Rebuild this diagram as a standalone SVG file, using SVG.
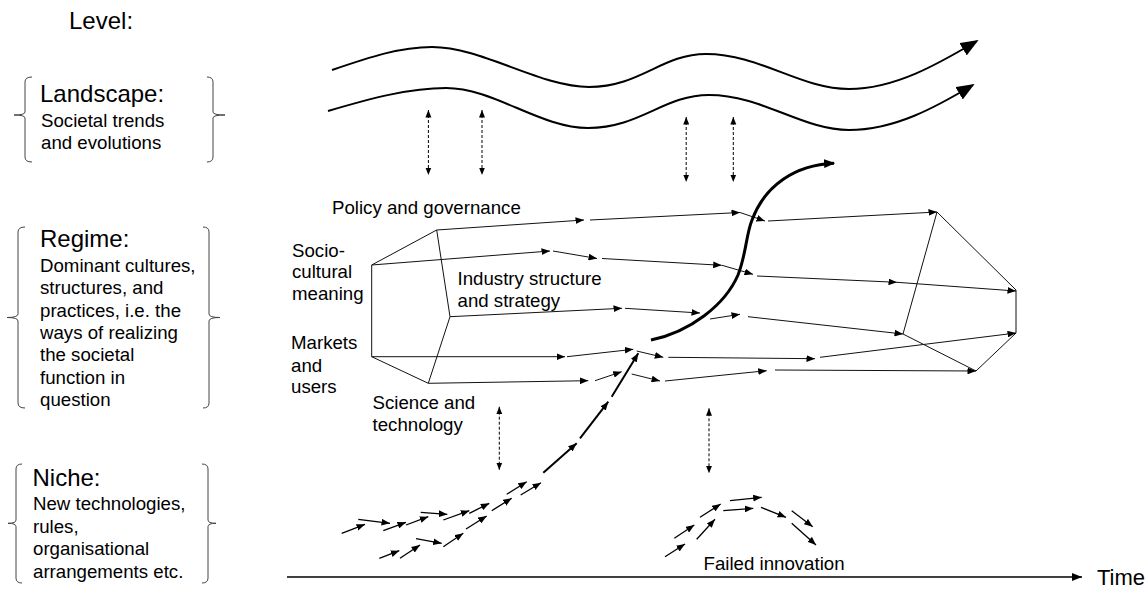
<svg xmlns="http://www.w3.org/2000/svg" width="1148" height="609" viewBox="0 0 1148 609">
  <style>
    text { font-family: "Liberation Sans", Arial, sans-serif; fill: #000; }
    .b { font-size: 18.67px; }
    .h { font-size: 24px; }
    .brace { fill: none; stroke: #444; stroke-width: 1; }
    .ln { fill: none; stroke: #111; stroke-width: 1; }
    .edge { fill: none; stroke: #111; stroke-width: 1; marker-end: url(#ah); }
    .wave { fill: none; stroke: #000; stroke-width: 2; marker-end: url(#big); }
    .dash { fill: none; stroke: #000; stroke-width: 1; stroke-dasharray: 3 2; marker-start: url(#dh); marker-end: url(#dh); }
    .nic { fill: none; stroke: #000; stroke-width: 1.3; marker-end: url(#sh); }
    .bold { fill: none; stroke: #000; stroke-width: 2; marker-end: url(#sh); }
  </style>
  <defs>
    <marker id="ah" viewBox="0 0 10 8" refX="10" refY="4" markerWidth="8.5" markerHeight="6.8" markerUnits="userSpaceOnUse" orient="auto">
      <path d="M0,0L10,4L0,8z" fill="#000"/>
    </marker>
    <marker id="sh" viewBox="0 0 10 8" refX="10" refY="4" markerWidth="8.5" markerHeight="7" markerUnits="userSpaceOnUse" orient="auto">
      <path d="M0,0L10,4L0,8z" fill="#000"/>
    </marker>
    <marker id="dh" viewBox="0 0 10 8" refX="10" refY="4" markerWidth="7.5" markerHeight="6.5" markerUnits="userSpaceOnUse" orient="auto-start-reverse">
      <path d="M0,0L10,4L0,8z" fill="#000"/>
    </marker>
    <marker id="big" viewBox="0 0 10 8" refX="9" refY="4" markerWidth="18" markerHeight="14.4" markerUnits="userSpaceOnUse" orient="auto">
      <path d="M0,0L10,4L0,8z" fill="#000"/>
    </marker>
    <marker id="sc" viewBox="0 0 10 8" refX="9" refY="4" markerWidth="11" markerHeight="8.8" markerUnits="userSpaceOnUse" orient="auto">
      <path d="M0,0L10,4L0,8z" fill="#000"/>
    </marker>
    <marker id="ta" viewBox="0 0 10 8" refX="10" refY="4" markerWidth="10" markerHeight="8" markerUnits="userSpaceOnUse" orient="auto">
      <path d="M0,0L10,4L0,8z" fill="#000"/>
    </marker>
  </defs>

  <!-- level legend on the left -->
  <text class="h" x="69" y="29">Level:</text>

  <g id="level-landscape">
    <path class="brace" d="M32,77 Q25,77 25,82 L25,112 Q25,115 14,115 Q25,115 25,118 L25,157 Q25,162 32,162"/>
    <path class="brace" d="M207,77 Q213,77 213,82 L213,112 Q213,115 225,115 Q213,115 213,118 L213,157 Q213,162 207,162"/>
    <text class="h" x="40" y="102">Landscape:</text>
    <text class="b" x="41" y="126.5">Societal trends</text>
    <text class="b" x="41" y="149">and evolutions</text>
  </g>

  <g id="level-regime">
    <path class="brace" d="M25,227 Q18,227 18,232 L18,314 Q18,317.5 7,317.5 Q18,317.5 18,321 L18,403 Q18,408 25,408"/>
    <path class="brace" d="M203,227 Q209,227 209,232 L209,314 Q209,317.5 220,317.5 Q209,317.5 209,321 L209,403 Q209,408 203,408"/>
    <text class="h" x="40" y="247">Regime:</text>
    <text class="b" x="40" y="272">Dominant cultures,</text>
    <text class="b" x="40" y="294.3">structures, and</text>
    <text class="b" x="40" y="316.6">practices, i.e. the</text>
    <text class="b" x="40" y="339">ways of realizing</text>
    <text class="b" x="40" y="361.3">the societal</text>
    <text class="b" x="40" y="383.6">function in</text>
    <text class="b" x="40" y="406">question</text>
  </g>

  <g id="level-niche">
    <path class="brace" d="M22,464 Q16,464 16,469 L16,520 Q16,523.3 8,523.3 Q16,523.3 16,526.5 L16,578 Q16,583 22,583"/>
    <path class="brace" d="M202,464 Q208,464 208,469 L208,520 Q208,523.3 216,523.3 Q208,523.3 208,526.5 L208,578 Q208,583 202,583"/>
    <text class="h" x="32.5" y="486">Niche:</text>
    <text class="b" x="33" y="510">New technologies,</text>
    <text class="b" x="33" y="532.5">rules,</text>
    <text class="b" x="33" y="555">organisational</text>
    <text class="b" x="33" y="577.5">arrangements etc.</text>
  </g>

  <!-- landscape: two wavy trend lines -->
  <g id="landscape">
    <path class="wave" d="M332,70 C370,57 400,47 432,47 C482,47 540,87 589,87 C640,87 662,54 706,54 C760,54 800,89 849,89 C895,89 938,64 977,41"/>
    <path class="wave" d="M328,111 C372,98 410,88 446,88 C494,88 540,128 588,128 C640,128 664,95 709,95 C762,95 802,130 849,130 C895,130 936,107 973,85"/>
  </g>

  <!-- regime: entry and exit faces of the tube -->
  <g id="regime-left">
    <path class="ln" d="M371.7,265 L371.7,356.7 L428.3,383.3 L450,316.7 L436.7,230 Z"/>
  </g>
  <g id="regime-right">
    <path class="ln" d="M937,212 L1016,290 L1016,333 L976,371 L903,334 Z"/>
  </g>

  <g id="regime-labels">
    <text class="b" x="332" y="213.5">Policy and governance</text>
    <text class="b" x="292" y="256.7">Socio-</text>
    <text class="b" x="292" y="278.3">cultural</text>
    <text class="b" x="292" y="300">meaning</text>
    <text class="b" x="457.5" y="285">Industry structure</text>
    <text class="b" x="457.5" y="306.7">and strategy</text>
    <text class="b" x="291" y="349.3">Markets</text>
    <text class="b" x="291" y="371.7">and</text>
    <text class="b" x="291" y="393.3">users</text>
    <text class="b" x="372.5" y="409.3">Science and</text>
    <text class="b" x="372.5" y="430.7">technology</text>
  </g>

  <g id="failed-innovation-label">
    <text class="b" x="703.5" y="570">Failed innovation</text>
  </g>

  <g id="time-label">
    <text x="1097" y="585" style="font-size:22px">Time</text>
  </g>

  <g id="connectors">
    <!-- policy and governance -->
    <path class="edge" d="M436.7,230 L584,220"/>
    <path class="edge" d="M590,220 L740,212.5"/>
    <path class="edge" d="M740,212.5 L765,221"/>
    <path class="edge" d="M768,221 L937,212"/>
    <!-- socio-cultural meaning -->
    <path class="edge" d="M371.7,265 L550,251"/>
    <path class="edge" d="M553,251 L597,258.5"/>
    <path class="edge" d="M602,258.5 L721.7,265.3"/>
    <path class="edge" d="M722,265.3 L753,274.3"/>
    <path class="edge" d="M757,276 L897,282.3"/>
    <path class="edge" d="M897,282.3 L1016,291"/>
    <!-- industry structure and strategy -->
    <path class="edge" d="M450,316.7 L622,308.3"/>
    <path class="edge" d="M625,308.3 L700,313"/>
    <path class="edge" d="M710,319 L740,314.3"/>
    <path class="edge" d="M748,316.7 L903,334"/>
    <!-- markets and users -->
    <path class="edge" d="M371.7,356.7 L565,356.7"/>
    <path class="edge" d="M567,356.7 L633.3,349.3"/>
    <path class="edge" d="M636.7,351 L663.3,357.3"/>
    <path class="edge" d="M668.3,357.3 L815,358.7"/>
    <path class="edge" d="M820,357.3 L1016,333"/>
    <!-- science and technology -->
    <path class="edge" d="M428.3,383.3 L588.3,380.7"/>
    <path class="edge" d="M595,380.7 L621.7,371.7"/>
    <path class="edge" d="M631.7,374 L660,381"/>
    <path class="edge" d="M665,381 L766.7,370.7"/>
    <path class="edge" d="M775,370 L976,371"/>

    <!-- interactions between levels -->
    <path class="dash" d="M428.4,110 L428.4,175"/>
    <path class="dash" d="M482,110 L482,175"/>
    <path class="dash" d="M686.2,117 L686.2,182"/>
    <path class="dash" d="M733.3,117 L733.3,182"/>
    <path class="dash" d="M499.3,406.7 L499.3,470"/>
    <path class="dash" d="M709,408.3 L709,473.3"/>

    <!-- breakthrough of the niche into the regime -->
    <path fill="none" stroke="#000" stroke-width="3" marker-end="url(#sc)" d="M651,340 C690,332 725,305 738,275 C746,255 746,235 752,220 C765,185 795,165 834,163.2"/>

    <!-- successful niche trajectory -->
    <path class="nic" d="M341.7,533.3 L365,524.3"/>
    <path class="nic" d="M358.3,519.3 L390,523.3"/>
    <path class="nic" d="M383.3,530.7 L406,522.3"/>
    <path class="nic" d="M406,525 L428.3,516.7"/>
    <path class="nic" d="M420.7,512.3 L447.3,514.3"/>
    <path class="nic" d="M443.3,520 L469.3,510.7"/>
    <path class="nic" d="M469.3,513.3 L489.3,503.3"/>
    <path class="nic" d="M491.7,510.7 L511.7,498.3"/>
    <path class="nic" d="M506.7,494.3 L526.7,481.7"/>
    <path class="nic" d="M520.7,495 L541,482.7"/>
    <path class="nic" d="M379.3,558.3 L399.3,550.7"/>
    <path class="nic" d="M400,558.3 L420,545"/>
    <path class="nic" d="M416,538.7 L441.7,543.3"/>
    <path class="nic" d="M443.3,546.7 L463.3,533.3"/>
    <path class="nic" d="M466,529 L486.7,516"/>
    <path class="bold" d="M543.3,472.7 L576.7,443.3"/>
    <path class="bold" d="M580,438.3 L608.3,401.7"/>
    <path class="bold" d="M611.7,396.7 L638.3,353.3"/>

    <!-- failed niche trajectory -->
    <path class="nic" d="M665,556.7 L685,544"/>
    <path class="nic" d="M674.3,538.3 L694.3,525"/>
    <path class="nic" d="M696.7,539.3 L715,519.3"/>
    <path class="nic" d="M700,517.3 L720.7,504"/>
    <path class="nic" d="M723.3,510.7 L753.3,508.3"/>
    <path class="nic" d="M730,500.7 L761.7,497.3"/>
    <path class="nic" d="M761,507.3 L786,517.3"/>
    <path class="nic" d="M791.7,510.7 L812.7,526.7"/>
    <path class="nic" d="M791.7,523.3 L816,545"/>

    <!-- time axis -->
    <path fill="none" stroke="#000" stroke-width="1.5" marker-end="url(#ta)" d="M287,577 L1082,577"/>
  </g>
</svg>
